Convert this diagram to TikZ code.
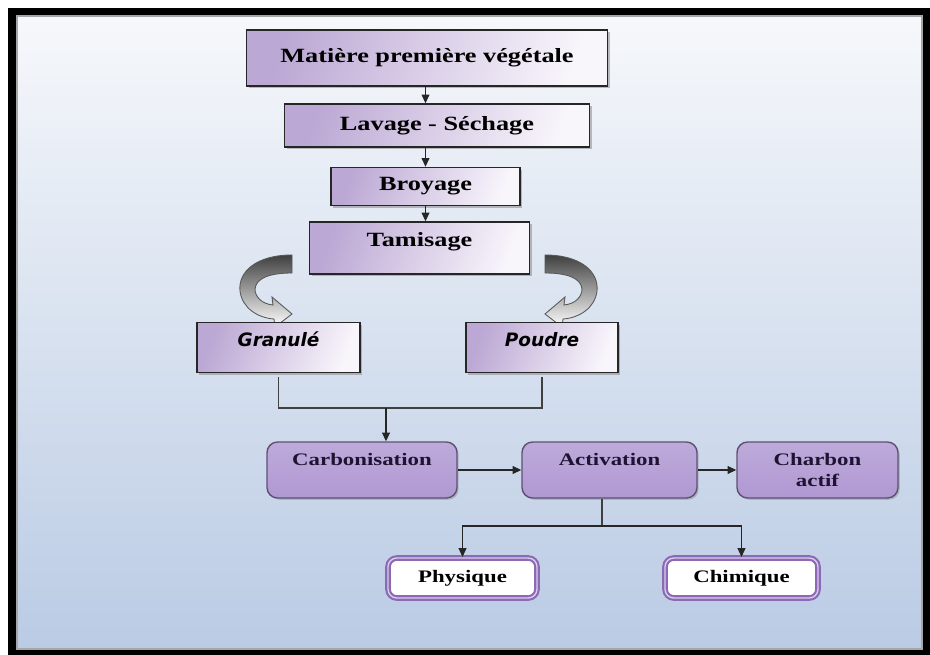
\documentclass[tikz,border=0pt]{standalone}
\usepackage{fontspec}
\usepackage{xcolor}
\usepackage{tikz}
\usetikzlibrary{arrows.meta, shadows}
\newfontfamily\boxserif{Liberation Serif}[FakeStretch=1.3]
\newfontfamily\boxsans{DejaVu Sans}
\definecolor{boxlav}{RGB}{188, 168, 212}
\definecolor{boxpale}{RGB}{248, 245, 251}
\definecolor{procA}{RGB}{190, 170, 218}
\definecolor{procB}{RGB}{128, 98, 168}
\definecolor{procC}{RGB}{176, 152, 210}
\definecolor{procedge}{RGB}{95, 80, 115}
\definecolor{proctext}{RGB}{30, 20, 50}
\definecolor{modeedge}{RGB}{140, 105, 180}
\definecolor{modelight}{RGB}{218, 205, 236}
\definecolor{paneltop}{RGB}{246, 248, 251}
\definecolor{panelbot}{RGB}{186, 203, 228}

\tikzset{
  stepbox/.style={draw=black!85, line width=0.8pt, left color=boxlav, right color=boxpale,
    shading angle=70, font=\boxserif\bfseries\fontsize{11.5pt}{13pt}\selectfont,
    drop shadow={shadow xshift=1.2pt, shadow yshift=-1.2pt, opacity=0.5}},
  formbox/.style={stepbox, font=\boxsans\bfseries\itshape\fontsize{10.5pt}{12pt}\selectfont},
  procbox/.style={draw=procedge, line width=0.8pt, rounded corners=6pt, top color=procA,
    middle color=procB, bottom color=procC, text=proctext, align=center, minimum height=1.12cm,
    font=\boxserif\bfseries\fontsize{10pt}{12.5pt}\selectfont,
    drop shadow={shadow xshift=1pt, shadow yshift=-1pt, opacity=0.4}},
  modebox/.style={draw=modeedge, line width=1.2pt, double=modelight, double distance=0.8pt,
    rounded corners=5pt, fill=white, minimum height=0.8cm,
    font=\boxserif\bfseries\fontsize{10pt}{12pt}\selectfont},
  flow/.style={draw=black!85, line width=0.6pt, -{Triangle[length=5pt, width=4.5pt]}},
  link/.style={draw=black!75, line width=0.6pt},
  turnshade/.style={draw=black!65, line width=0.5pt, top color=black!75, bottom color=white},
  turnarrow/.pic={
    \path[turnshade] (0,0) .. controls (-36,0) and (-54,17) .. (-52,36)
      .. controls (-50,53) and (-34,63) .. (-18,64) -- (-17,72) -- (0,59) -- (-20,42)
      -- (-19,50) .. controls (-30,49) and (-37,42) .. (-37,34)
      .. controls (-36,23) and (-22,18) .. (0,18) -- cycle;
  }
}

\begin{document}
\begin{tikzpicture}[x=0.02cm, y=-0.02cm]
% frame and panel
\fill[white] (0,0) rectangle (930,655);
\fill[black] (8,8) rectangle (930,655);
\shade[top color=paneltop, bottom color=panelbot] (17,16) rectangle (922,649);
\draw[black!35, line width=0.8pt] (17,16) rectangle (922,649);

% preparation
\node[stepbox, minimum width=7.22cm, minimum height=1.12cm] (matiere) at (427,58) {Matière première végétale};
\node[stepbox, minimum width=6.1cm, minimum height=0.86cm] (lavage) at (437,125.5) {Lavage - Séchage};
\node[stepbox, minimum width=3.78cm, minimum height=0.76cm] (broyage) at (425.5,186.5) {Broyage};
\node[stepbox, minimum width=4.4cm, minimum height=1.04cm, text depth=0.34cm] (tamisage) at (419.5,248) {Tamisage};
\draw[flow] (matiere.south -| broyage) -- (lavage.north -| broyage);
\draw[flow] (lavage.south -| broyage) -- (broyage.north);
\draw[flow] (broyage.south) -- (tamisage.north -| broyage);

% forms
\pic at (292,255) {turnarrow};
\pic[xscale=-1] at (545,255) {turnarrow};
\node[formbox, minimum width=3.26cm, minimum height=1cm, text depth=0.32cm] (granule) at (278.5,347.5) {Granulé};
\node[formbox, minimum width=3.04cm, minimum height=1cm, text depth=0.32cm] (poudre) at (542,347.5) {Poudre};
\coordinate (join) at (386,408);
\draw[link, shorten <=0.08cm, shorten >=0.08cm] (granule.south) |- (join) -| (poudre.south);

% treatment
\node[procbox, minimum width=3.8cm, text depth=0.44cm] (carbo) at (362,470) {Carbonisation};
\node[procbox, minimum width=3.5cm, text depth=0.44cm] (activ) at (609.5,470) {Activation};
\node[procbox, minimum width=3.22cm] (charbon) at (817.5,470) {Charbon\\actif};
\draw[flow] (join) -- (join |- carbo.north);
\draw[flow] (carbo) -- (activ);
\draw[flow] (activ) -- (charbon);

% activation modes
\node[modebox, minimum width=2.98cm] (physique) at (462.5,578) {Physique};
\node[modebox, minimum width=3.06cm] (chimique) at (741.5,578) {Chimique};
\coordinate (split) at (602,526);
\draw[link] (activ.south -| split) -- (split);
\draw[flow] (split) -| (physique);
\draw[flow] (split) -| (chimique);
\end{tikzpicture}
\end{document}
